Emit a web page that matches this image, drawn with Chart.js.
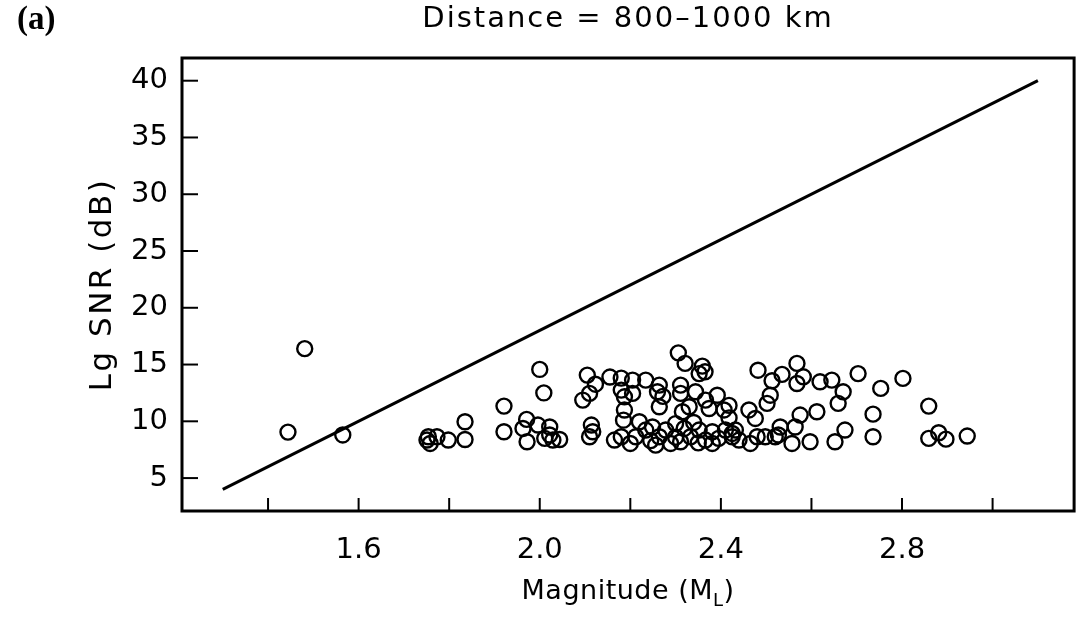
<!DOCTYPE html>
<html>
<head>
<meta charset="utf-8">
<script src="https://cdn.jsdelivr.net/npm/chart.js@4"></script>
<style>
html,body{margin:0;padding:0;background:#fff;}
#wrap{width:1084px;height:618px;position:relative;}
</style>
</head>
<body>
<div id="wrap"><canvas id="c" width="1084" height="618"></canvas></div>
<script>
// ---- data ----
const magnitude = [
  1.444,1.481,1.565,1.751,1.754,1.758,1.773,1.798,1.835,1.835,
  1.921,1.921,1.971,1.963,1.972,1.996,2.000,2.009,2.022,2.011,
  2.029,2.044,2.022,2.105,2.123,2.110,2.095,2.114,2.117,2.110,
  2.155,2.180,2.205,2.234,2.264,2.260,2.180,2.187,2.205,2.187,
  2.185,2.180,2.165,2.264,2.306,2.321,2.359,2.365,2.352,2.311,
  2.311,2.344,2.330,2.315,2.366,2.374,2.392,2.407,2.418,2.220,
  2.234,2.249,2.264,2.278,2.256,2.289,2.311,2.319,2.333,2.352,
  2.366,2.381,2.381,2.410,2.425,2.212,2.200,2.482,2.568,2.535,
  2.513,2.582,2.568,2.619,2.645,2.670,2.659,2.703,2.509,2.502,
  2.462,2.476,2.575,2.612,2.674,2.652,2.597,2.564,2.557,2.531,
  2.520,2.498,2.465,2.440,2.425,2.418,2.432,2.480,2.527,2.753,
  2.802,2.736,2.736,2.859,2.859,2.881,2.897,2.944,2.272,2.300,
  2.340,2.395,2.300,2.245,2.350
];
const snr = [
  9.05,16.4,8.8,8.35,8.64,8.05,8.64,8.35,9.96,8.4,
  11.34,9.08,10.17,9.37,8.2,9.67,14.57,12.5,9.5,8.5,
  8.35,8.4,8.8,14.07,13.27,12.46,11.87,9.67,9.08,8.64,
  13.9,13.8,13.63,13.63,13.19,12.6,12.75,12.16,12.46,10.99,
  10.1,8.64,8.35,11.28,16.03,15.1,14.86,14.36,14.2,13.19,
  12.46,12.6,11.28,10.84,11.87,11.13,12.3,11.0,11.4,9.96,
  9.23,9.5,8.64,9.23,7.9,8.05,8.2,9.37,8.64,9.23,
  8.35,8.05,9.08,9.23,8.64,8.64,8.05,14.5,15.1,14.13,
  13.57,13.92,13.33,13.48,13.63,12.6,11.58,14.2,12.3,11.58,
  11.0,10.25,10.55,10.84,9.23,8.2,8.2,9.5,8.05,9.5,
  8.64,8.64,8.05,8.35,8.93,10.3,9.23,8.64,8.8,12.9,
  13.78,10.63,8.64,11.34,8.5,8.99,8.43,8.7,12.2,9.8,
  9.9,8.5,8.6,8.3,8.1
];
const lineMagnitude = [1.3, 3.1];
const lineSNR = [4, 40];
const xTickValues = [1.4, 1.6, 1.8, 2.0, 2.2, 2.4, 2.6, 2.8, 3.0];
const xTickLabels = ['', '1.6', '', '2.0', '', '2.4', '', '2.8', ''];
const yTickValues = [5, 10, 15, 20, 25, 30, 35, 40];
const titleText = 'Distance = 800\u20131000 km';
const panelLabel = '(a)';
const xTitleMain = 'Magnitude (M';
const xTitleSub = 'L';
const yTitle = 'Lg SNR (dB)';

const FONT = '"DejaVu Sans", sans-serif';

const framePlugin = {
  id: 'frame',
  afterDraw(chart) {
    const {ctx, chartArea: a, scales} = chart;
    ctx.save();
    ctx.strokeStyle = '#000';
    ctx.lineWidth = 3;
    ctx.strokeRect(a.left, a.top, a.right - a.left, a.bottom - a.top);
    ctx.lineWidth = 2;
    scales.x.ticks.forEach(t => {
      const px = scales.x.getPixelForValue(t.value);
      ctx.beginPath(); ctx.moveTo(px, a.bottom); ctx.lineTo(px, a.bottom - 13); ctx.stroke();
    });
    scales.y.ticks.forEach(t => {
      const py = scales.y.getPixelForValue(t.value);
      ctx.beginPath(); ctx.moveTo(a.left, py); ctx.lineTo(a.left + 16, py); ctx.stroke();
    });
    // texts
    ctx.fillStyle = '#000';
    ctx.textBaseline = 'middle';
    ctx.textAlign = 'center';
    const cx = (a.left + a.right) / 2;
    ctx.font = '29px ' + FONT;
    ctx.letterSpacing = '2px';
    ctx.fillText(titleText, cx, 19);
    ctx.letterSpacing = '0px';
    ctx.textAlign = 'left';
    ctx.font = 'bold 33px "Liberation Serif", serif';
    ctx.fillText(panelLabel, 17, 20);
    // y title (rotated)
    ctx.save();
    ctx.translate(103, (a.top + a.bottom) / 2);
    ctx.rotate(-Math.PI / 2);
    ctx.textAlign = 'center';
    ctx.font = '31px ' + FONT;
    ctx.letterSpacing = '2.5px';
    ctx.fillText(yTitle, 0, 0);
    ctx.restore();
    // x title with subscript
    ctx.textAlign = 'left';
    ctx.letterSpacing = '0.5px';
    ctx.font = '27px ' + FONT;
    const w1 = ctx.measureText(xTitleMain).width;
    ctx.font = '18px ' + FONT;
    const w2 = ctx.measureText(xTitleSub).width;
    ctx.font = '27px ' + FONT;
    const w3 = ctx.measureText(')').width;
    let x0 = cx - (w1 + w2 + w3) / 2;
    const ty = 592;
    ctx.fillText(xTitleMain, x0, ty);
    ctx.font = '18px ' + FONT;
    ctx.fillText(xTitleSub, x0 + w1, ty + 9);
    ctx.font = '27px ' + FONT;
    ctx.fillText(')', x0 + w1 + w2, ty);
    ctx.restore();
  }
};

new Chart(document.getElementById('c'), {
  data: {
    datasets: [
      {
        type: 'scatter',
        data: magnitude.map((m, i) => ({x: m, y: snr[i]})),
        pointStyle: 'circle',
        pointRadius: 7.5,
        pointBorderWidth: 2.4,
        pointBorderColor: '#000',
        pointBackgroundColor: 'rgba(0,0,0,0)'
      },
      {
        type: 'line',
        data: lineMagnitude.map((m, i) => ({x: m, y: lineSNR[i]})),
        borderColor: '#000',
        borderWidth: 3,
        pointRadius: 0,
        fill: false
      }
    ]
  },
  options: {
    responsive: false,
    animation: false,
    layout: {padding: {left: 0, right: 8, top: 58, bottom: 0}},
    plugins: {legend: {display: false}, tooltip: {enabled: false}, title: {display: false}},
    scales: {
      x: {
        type: 'linear',
        min: 1.21, max: 3.18,
        grid: {display: false, drawTicks: false},
        border: {display: false},
        afterBuildTicks: s => { s.ticks = xTickValues.map(v => ({value: v})); },
        afterFit: s => { s.height = 107; },
        ticks: {
          autoSkip: false,
          maxRotation: 0,
          padding: 22,
          color: '#000',
          font: {family: FONT, size: 29},
          callback: (v, i) => xTickLabels[i]
        }
      },
      y: {
        type: 'linear',
        min: 2.1, max: 42,
        grid: {display: false, drawTicks: false},
        border: {display: false},
        afterBuildTicks: s => { s.ticks = yTickValues.map(v => ({value: v})); },
        afterFit: s => { s.width = 182; },
        ticks: {
          padding: 14,
          color: '#000',
          font: {family: FONT, size: 29},
          callback: v => String(v)
        }
      }
    }
  },
  plugins: [framePlugin]
});
</script>
</body>
</html>
